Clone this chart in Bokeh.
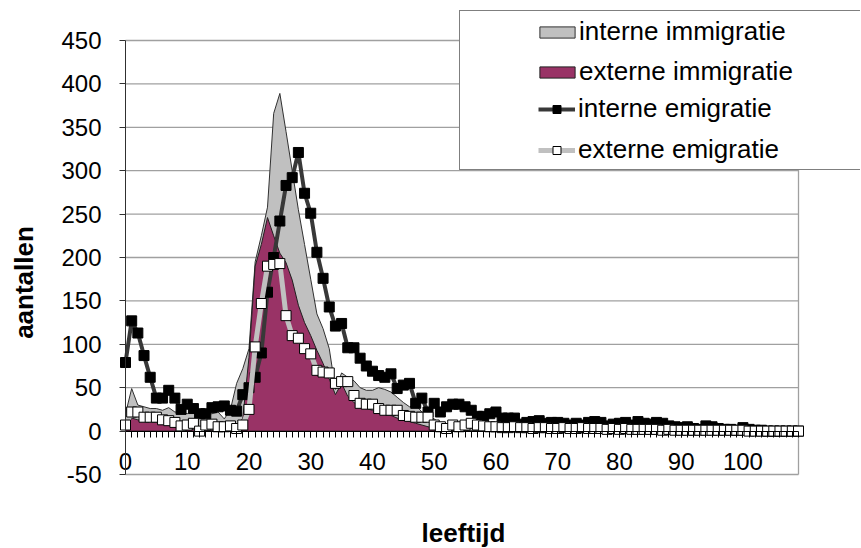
import math
from bokeh.plotting import figure
from bokeh.models import Range1d, FixedTicker, Legend, LegendItem, Label, LinearAxis
from bokeh.embed import file_html
from bokeh.resources import INLINE

ages = list(range(110))

interne_immigratie = [
    20, 49, 30, 28, 26, 26, 24, 27, 22, 22,
    20, 25, 18, 20, 20, 22, 14, 25, 55, 72,
    95, 195, 225, 258, 366, 389, 345, 300, 255, 215,
    175, 135, 118, 95, 48, 67, 62, 58, 50, 47,
    47, 50, 48, 45, 39, 33, 28, 30, 22, 18,
    14, 9, 8, 7, 8, 6, 7, 6, 5, 5,
    5, 4, 4, 5, 4, 3, 4, 3, 3, 4,
    3, 3, 2, 3, 3, 2, 3, 2, 2, 2,
    2, 2, 2, 1, 2, 1, 1, 1, 1, 1,
    1, 1, 1, 0, 1, 0, 0, 0, 0, 0,
    0, 0, 0, 0, 0, 0, 0, 0, 0, 0,
]

externe_immigratie = [
    2, 15, 13, 12, 11, 10, 8, 7, 6, 4,
    3, 2, 1, 1, 1, 1, 1, 2, 3, 15,
    85, 190, 215, 246, 225, 205, 194, 174, 145, 125,
    110, 93, 78, 60, 42, 55, 40, 33, 28, 26,
    24, 22, 20, 18, 15, 13, 11, 9, 7, 5,
    3, 2, 1, 1, 1, 1, 0, 0, 0, 0,
    0, 0, 0, 0, 0, 0, 0, 0, 0, 0,
    0, 0, 0, 0, 0, 0, 0, 0, 0, 0,
    0, 0, 0, 0, 0, 0, 0, 0, 0, 0,
    0, 0, 0, 0, 0, 0, 0, 0, 0, 0,
    0, 0, 0, 0, 0, 0, 0, 0, 0, 0,
]

interne_emigratie = [
    79, 127, 113, 87, 62, 38, 38, 47, 38, 25,
    31, 26, 20, 20, 27, 28, 29, 24, 23, 42,
    50, 62, 90, 160, 200, 242, 283, 292, 321, 274,
    251, 206, 176, 143, 121, 124, 96, 96, 84, 75,
    69, 64, 62, 66, 49, 53, 55, 32, 38, 22,
    32, 22, 28, 31, 31, 28, 24, 17, 17, 20,
    22, 15, 15, 15, 8, 10, 11, 12, 9, 10,
    10, 9, 7, 9, 7, 10, 11, 10, 6, 8,
    9, 10, 7, 11, 9, 8, 10, 9, 6, 5,
    4, 5, 3, 2, 6, 5, 3, 2, 2, 1,
    4, 2, 1, 1, 0, 0, 0, 0, 0, 0,
]

externe_emigratie = [
    7, 22, 22, 16, 16, 16, 13, 12, 10, 6,
    7, 9, 0, 7, 8, 5, 5, 6, 3, 7,
    25, 97, 147, 190, 192, 193, 133, 110, 107, 95,
    89, 70, 68, 67, 55, 57, 57, 41, 32, 31,
    31, 26, 24, 24, 24, 18, 17, 16, 16, 16,
    7, 5, 3, 7, 5, 7, 9, 7, 6, 5,
    5, 4, 4, 5, 4, 4, 3, 4, 4, 3,
    3, 4, 3, 3, 4, 3, 3, 3, 2, 3,
    2, 3, 2, 2, 2, 2, 2, 1, 2, 1,
    1, 1, 1, 1, 1, 1, 1, 1, 1, 1,
    1, 0, 0, 0, 0, 0, 0, 0, 0, 0,
]

x_ticks = [0, 10, 20, 30, 40, 50, 60, 70, 80, 90, 100]
y_ticks = [-50, 0, 50, 100, 150, 200, 250, 300, 350, 400, 450]
y_tick_labels = {v: str(v) for v in y_ticks}

series_labels = ["interne immigratie", "externe immigratie",
                 "interne emigratie", "externe emigratie"]
x_title = "leeftijd"
y_title = "aantallen"

FONT = "Liberation Sans"
W, H = 860, 547

# pixel geometry of the plot area inside the canvas
PL, PR, PT, PB = 125, 798, 40, 474
xs_per_px = (ages[-1] - ages[0]) / (PR - PL)
ys_per_px = (y_ticks[-1] - y_ticks[0]) / (PB - PT)
x0 = ages[0] - PL * xs_per_px
x1 = ages[-1] + (W - PR) * xs_per_px
y0 = y_ticks[0] - (H - PB) * ys_per_px
y1 = y_ticks[-1] + PT * ys_per_px

p = figure(width=W, height=H, output_backend="svg", toolbar_location=None,
           x_range=Range1d(x0, x1), y_range=Range1d(y0, y1),
           x_axis_location=None, y_axis_location=None,
           min_border=0, min_border_left=0, min_border_right=0,
           min_border_top=0, min_border_bottom=0)
p.background_fill_color = "white"
p.border_fill_color = "white"
p.outline_line_color = None
p.grid.visible = False

GRID = "#a0a0a0"
# horizontal gridlines and right border of the plot area
p.segment(x0=[ages[0]] * len(y_ticks), x1=[ages[-1]] * len(y_ticks),
          y0=y_ticks, y1=y_ticks, line_color=GRID, line_width=1.3)
p.segment(x0=[ages[-1]], x1=[ages[-1]], y0=[y_ticks[0]], y1=[y_ticks[-1]],
          line_color=GRID, line_width=1.3)

# areas
gray_r = p.patch([ages[0]] + ages + [ages[-1]], [0] + interne_immigratie + [0],
                 fill_color="#c0c0c0", line_color="#303030", line_width=1)
mag_r = p.patch([ages[0]] + ages + [ages[-1]], [0] + externe_immigratie + [0],
                fill_color="#993366", line_color="#202020", line_width=1)

# lines
ie_line = p.line(ages, interne_emigratie, line_color="#383838", line_width=4)
ie_pts = p.scatter(ages, interne_emigratie, marker="square", size=10,
                   fill_color="black", line_color="black")
xe_line = p.line(ages, externe_emigratie, line_color="#c0c0c0", line_width=5)
xe_pts = p.scatter(ages, externe_emigratie, marker="square", size=10,
                   fill_color="white", line_color="black", line_width=1)

dummy = p.scatter(x=[], y=[], alpha=0)

# axes
xa = LinearAxis(ticker=FixedTicker(ticks=x_ticks, minor_ticks=ages),
                fixed_location=0, bounds=(ages[0], ages[-1]))
xa.axis_line_color = "black"
xa.major_tick_in = 0
xa.major_tick_out = 6
xa.minor_tick_in = 0
xa.minor_tick_out = 6
xa.major_tick_line_color = "black"
xa.minor_tick_line_color = "black"
xa.major_label_standoff = 16
xa.major_label_text_font = FONT
xa.major_label_text_font_size = "24px"
xa.major_label_text_color = "black"
p.add_layout(xa, "below")

ya = LinearAxis(ticker=FixedTicker(ticks=y_ticks), fixed_location=0,
                bounds=(y_ticks[0], y_ticks[-1]))
ya.axis_line_color = "#303030"
ya.major_tick_in = 0
ya.major_tick_out = 6
ya.minor_tick_out = 0
ya.minor_tick_in = 0
ya.major_tick_line_color = "#303030"
ya.major_label_standoff = 18
ya.major_label_text_font = FONT
ya.major_label_text_font_size = "24px"
ya.major_label_text_color = "black"
ya.major_label_overrides = y_tick_labels
p.add_layout(ya, "left")

# axis titles
p.add_layout(Label(x=23, y=H - 282, x_units="screen", y_units="screen", text=y_title,
                   angle=math.pi / 2, text_font=FONT, text_font_size="26px",
                   text_font_style="bold", text_align="center", text_baseline="middle",
                   text_color="black"))
p.add_layout(Label(x=463, y=H - 532, x_units="screen", y_units="screen", text=x_title,
                   text_font=FONT, text_font_size="26px", text_font_style="bold",
                   text_align="center", text_baseline="middle", text_color="black"))

# legend frame
frame_leg = Legend(items=[LegendItem(label=" ", renderers=[dummy])],
                   location=(459, H - 170), padding=0, margin=0,
                   glyph_width=420, glyph_height=158, label_width=0, label_height=0,
                   label_standoff=0, label_text_font_size="1px",
                   border_line_color="black", border_line_width=1,
                   background_fill_color="white", background_fill_alpha=1)
p.add_layout(frame_leg, "center")

leg_a = Legend(items=[LegendItem(label=series_labels[0], renderers=[gray_r]),
                      LegendItem(label=series_labels[1], renderers=[mag_r])],
               location=(535, H - 87), padding=0, margin=0, spacing=9,
               glyph_width=44, glyph_height=14, label_height=30, label_standoff=0,
               label_text_font=FONT, label_text_font_size="26px",
               label_text_color="black",
               border_line_alpha=0, background_fill_alpha=0)
p.add_layout(leg_a, "center")

leg_b = Legend(items=[LegendItem(label=series_labels[2], renderers=[ie_line, ie_pts]),
                      LegendItem(label=series_labels[3], renderers=[xe_line, xe_pts])],
               location=(538, H - 165), padding=0, margin=0, spacing=10,
               glyph_width=37, glyph_height=20, label_height=30, label_standoff=3,
               label_text_font=FONT, label_text_font_size="26px",
               label_text_color="black",
               border_line_alpha=0, background_fill_alpha=0)
p.add_layout(leg_b, "center")

open("out.html", "w").write(file_html(p, INLINE))
